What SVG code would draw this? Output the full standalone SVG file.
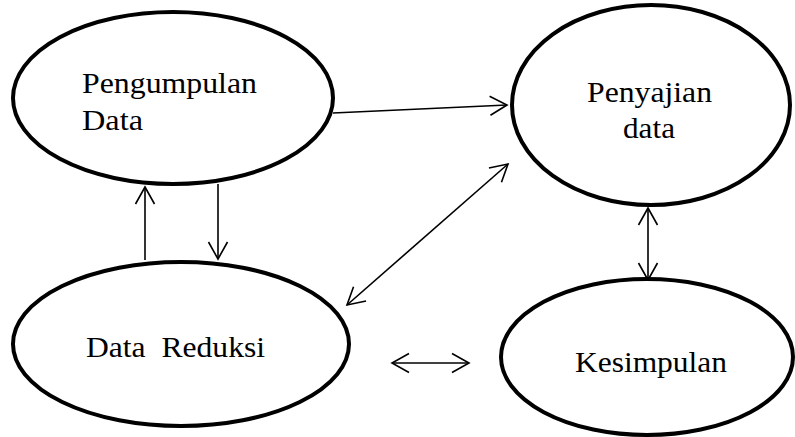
<svg xmlns="http://www.w3.org/2000/svg" width="795" height="437" viewBox="0 0 795 437">
<style>
.node ellipse{fill:#fff;stroke:#000;stroke-width:4}
.node text{font-family:'Liberation Serif','Times New Roman',serif;font-size:30px;fill:#000}
.conn line{stroke:#000;stroke-width:1.6;fill:none}
</style>
<defs>
<marker id="ah" markerUnits="userSpaceOnUse" markerWidth="24" markerHeight="24" viewBox="-20 -12 24 24" refX="0" refY="0" orient="auto-start-reverse">
<path d="M-17,-9.5 L0,0 L-17,9.5" fill="none" stroke="#000" stroke-width="1.6"/>
</marker>
</defs>
<rect width="795" height="437" fill="#fff"/>
<g id="connectors" class="conn">
<line x1="333" y1="113" x2="507" y2="105" marker-end="url(#ah)"/>
<line x1="145" y1="260" x2="145" y2="187" marker-end="url(#ah)"/>
<line x1="218" y1="184" x2="218" y2="259" marker-end="url(#ah)"/>
<line x1="347" y1="305" x2="508" y2="164" marker-start="url(#ah)" marker-end="url(#ah)"/>
<line x1="392" y1="363" x2="469" y2="363" marker-start="url(#ah)" marker-end="url(#ah)"/>
<line x1="648" y1="208" x2="648" y2="280" marker-start="url(#ah)" marker-end="url(#ah)"/>
</g>
<g id="pengumpulan" class="node">
<ellipse cx="173" cy="98" rx="160" ry="86"/>
<text x="82" y="93" textLength="175" lengthAdjust="spacingAndGlyphs">Pengumpulan</text>
<text x="82" y="130" textLength="61" lengthAdjust="spacingAndGlyphs">Data</text>
</g>
<g id="penyajian" class="node">
<ellipse cx="651" cy="105" rx="139" ry="100"/>
<text x="587" y="102" textLength="125" lengthAdjust="spacingAndGlyphs">Penyajian</text>
<text x="623" y="138" textLength="52" lengthAdjust="spacingAndGlyphs">data</text>
</g>
<g id="reduksi" class="node">
<ellipse cx="181" cy="344" rx="168" ry="82"/>
<text x="86" y="357" xml:space="preserve" textLength="179" lengthAdjust="spacingAndGlyphs">Data  Reduksi</text>
</g>
<g id="kesimpulan" class="node">
<ellipse cx="647" cy="357" rx="146" ry="78"/>
<text x="575" y="372" textLength="152" lengthAdjust="spacingAndGlyphs">Kesimpulan</text>
</g>
</svg>
